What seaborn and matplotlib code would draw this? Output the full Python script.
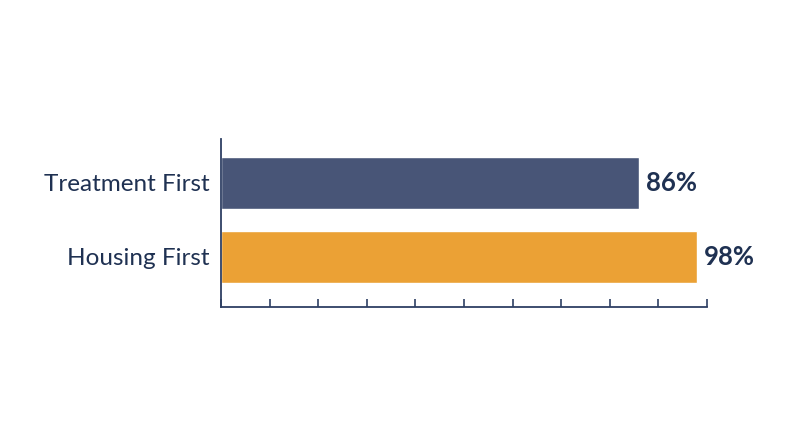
import pandas as pd
import seaborn as sns
import matplotlib.pyplot as plt

# data
groups = ['Treatment First', 'Housing First']
values = [86, 98]
bar_colors = ['#485577', '#EBA135']
text_color = '#1F3152'

df = pd.DataFrame({'group': groups, 'value': values})

sns.set_style('white')
plt.rcParams['font.family'] = ['Lato', 'DejaVu Sans']

fig = plt.figure(figsize=(8, 4.47), dpi=100)
ax = fig.add_axes([0.27625, 0.3132, 0.6075, 0.3759])

sns.barplot(data=df, x='value', y='group', hue='group', palette=bar_colors,
            legend=False, width=0.7, saturation=1, ax=ax)

ax.set_xlim(0, 100)
ax.set_ylim(1.676, -0.595)
ax.set_xticks(range(0, 101, 10))
ax.set_xticklabels([])
ax.tick_params(axis='x', direction='in', length=6, width=1.2, color='#2E3F63', bottom=True)
ax.tick_params(axis='y', length=0, labelsize=17.5, labelcolor=text_color, pad=8)
ax.set_xlabel(None)
ax.set_ylabel(None)

for side in ['top', 'right']:
    ax.spines[side].set_visible(False)
for side in ['left', 'bottom']:
    ax.spines[side].set_color('#2E3F63')
    ax.spines[side].set_linewidth(1.3)

# value labels
for i, v in enumerate(values):
    ax.text(v + 1.4, i, f'{v}%', va='center', ha='left', fontsize=18.5,
            fontweight='bold', color=text_color)

plt.savefig('out.png', dpi=100)
